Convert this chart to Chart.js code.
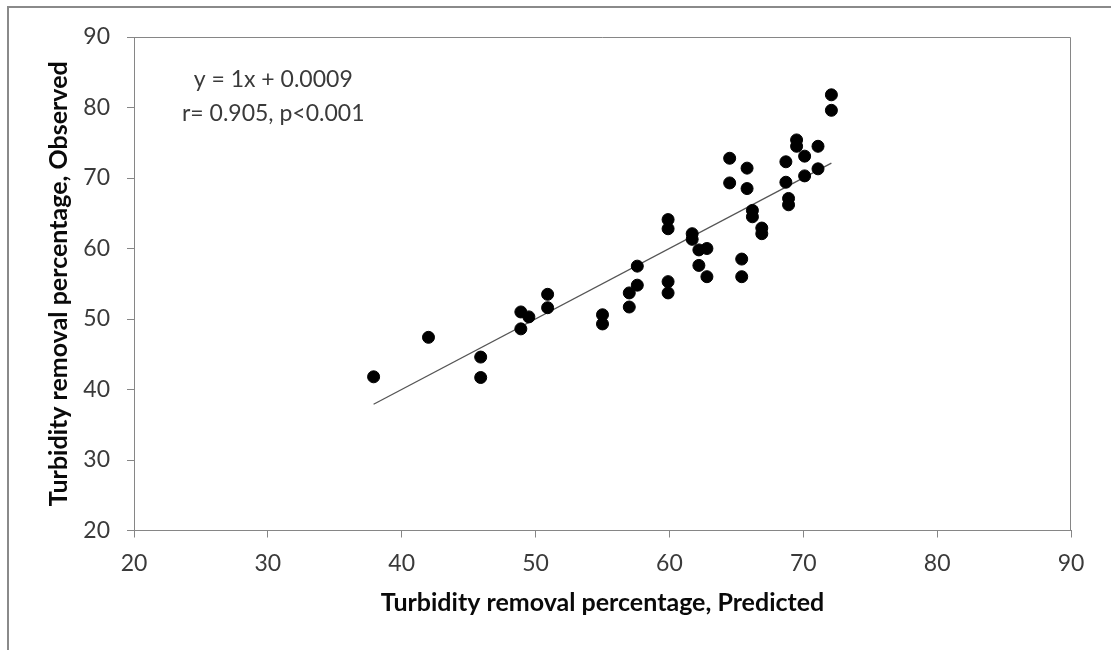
<!DOCTYPE html>
<html>
<head>
<meta charset="utf-8">
<script src="https://cdn.jsdelivr.net/npm/chart.js@4"></script>
<style>
  html, body { margin: 0; padding: 0; background: #fff; overflow: hidden; }
  #frame { position: absolute; left: 7px; top: 6px; width: 1200px; height: 700px;
           border-left: 2px solid #8a8a8a; border-top: 2px solid #8a8a8a; }
  #wrap { position: absolute; left: 0; top: 0; width: 1111px; height: 650px; }
</style>
</head>
<body>
<div id="frame"></div>
<div id="wrap"><canvas id="scatterChart"></canvas></div>
<script>
/* Observed vs predicted turbidity removal */
const predicted = [37.9, 42.0, 45.9, 45.9, 48.9, 49.5, 48.9, 50.9, 50.9, 55.0, 55.0, 57.0, 57.0, 57.6, 57.6,
  59.9, 59.9, 59.9, 59.9, 61.7, 61.7, 62.2, 62.8, 62.2, 62.8, 64.5, 64.5, 65.8, 65.8, 65.4, 65.4,
  66.2, 66.2, 66.9, 66.9, 68.7, 68.7, 68.9, 68.9, 69.5, 69.5, 70.1, 70.1, 71.1, 71.1, 72.1, 72.1];
const observed = [41.8, 47.4, 44.6, 41.7, 51.0, 50.3, 48.6, 53.5, 51.6, 50.6, 49.3, 53.7, 51.7, 57.5, 54.8,
  64.1, 62.8, 55.3, 53.7, 62.1, 61.3, 59.8, 60.0, 57.6, 56.0, 72.8, 69.3, 71.4, 68.5, 58.5, 56.0,
  65.4, 64.5, 62.9, 62.1, 72.3, 69.4, 67.1, 66.2, 75.4, 74.5, 73.1, 70.3, 74.5, 71.3, 81.8, 79.6];
const fitSlope = 1, fitIntercept = 0.0009;
const fitRange = [37.9, 72.1];
const axisTicks = [20, 30, 40, 50, 60, 70, 80, 90];
const annotation = ['y = 1x + 0.0009', 'r= 0.905, p<0.001'];
const annoX = 30.4, annoY = [83.9, 79.2];

const axisGray = '#868686';
const textGray = '#3a3a3a';

const points = predicted.map((x, i) => ({ x, y: observed[i] }));
const fitLine = fitRange.map(x => ({ x, y: fitSlope * x + fitIntercept }));

const frameBox = {
  id: 'frameBox',
  afterDraw(chart) {
    const { ctx, chartArea: a } = chart;
    ctx.save();
    ctx.strokeStyle = axisGray;
    ctx.lineWidth = 1;
    ctx.beginPath();
    ctx.moveTo(a.left, a.top + 0.5);
    ctx.lineTo(a.right - 0.5, a.top + 0.5);
    ctx.lineTo(a.right - 0.5, a.bottom);
    ctx.stroke();
    // equation text
    const xs = chart.scales.x, ys = chart.scales.y;
    ctx.fillStyle = textGray;
    ctx.font = '23px Lato';
    ctx.textAlign = 'center';
    ctx.textBaseline = 'middle';
    annotation.forEach((t, i) => ctx.fillText(t, xs.getPixelForValue(annoX), ys.getPixelForValue(annoY[i])));
    ctx.restore();
  }
};

const tickOpts = { font: { family: 'Lato', size: 23 }, color: textGray, autoSkip: false };
const gridOpts = { drawOnChartArea: false, drawTicks: true, tickLength: 7, color: axisGray };

new Chart(document.getElementById('scatterChart'), {
  type: 'scatter',
  data: {
    datasets: [
      { label: 'Observed', data: points, backgroundColor: '#000', borderColor: '#000',
        pointRadius: 6, pointHoverRadius: 6, order: 1 },
      { type: 'line', label: 'Fit', data: fitLine, borderColor: '#555', borderWidth: 1.3,
        pointRadius: 0, fill: false, order: 2 }
    ]
  },
  options: {
    responsive: true, maintainAspectRatio: false, animation: false,
    layout: { padding: { left: 0, right: 40, top: 37, bottom: 0 } },
    plugins: { legend: { display: false }, tooltip: { enabled: false } },
    scales: {
      x: {
        type: 'linear', min: 20, max: 90,
        afterBuildTicks: s => { s.ticks = axisTicks.map(v => ({ value: v })); },
        afterFit: s => { s.height = 119.5; },
        ticks: { ...tickOpts, padding: 12, maxRotation: 0 },
        grid: gridOpts,
        border: { color: axisGray, width: 1 },
        title: { display: true, text: 'Turbidity removal percentage, Predicted', color: '#0a0a0a',
          font: { family: 'Lato', size: 25, weight: 'bold' }, padding: { top: 0, bottom: 32 } }
      },
      y: {
        type: 'linear', min: 20, max: 90,
        afterBuildTicks: s => { s.ticks = axisTicks.map(v => ({ value: v })); },
        afterFit: s => { s.width = 134; },
        ticks: { ...tickOpts, padding: 17 },
        grid: gridOpts,
        border: { color: axisGray, width: 1 },
        title: { display: true, text: 'Turbidity removal percentage, Observed', color: '#0a0a0a',
          font: { family: 'Lato', size: 25, weight: 'bold' }, padding: { top: 44, bottom: 0 } }
      }
    }
  },
  plugins: [frameBox]
});
</script>
</body>
</html>
